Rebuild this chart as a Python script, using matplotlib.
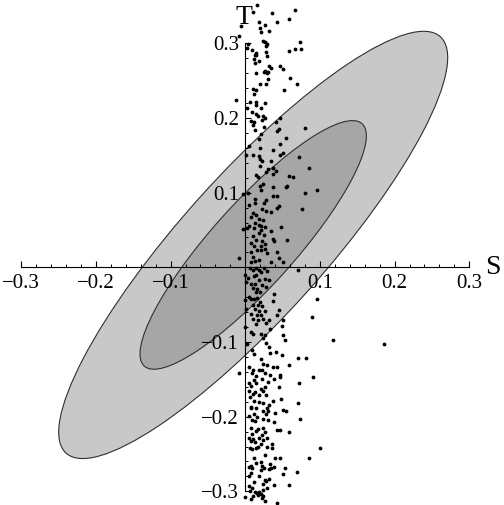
import numpy as np
import matplotlib
matplotlib.use("Agg")
import matplotlib.pyplot as plt
from matplotlib.patches import Ellipse
from matplotlib.ticker import FixedLocator, FixedFormatter, NullFormatter

plt.rcParams['font.family'] = ['Liberation Serif', 'DejaVu Serif']

# ---------------- data ----------------
major_ticks = [-0.3, -0.2, -0.1, 0.1, 0.2, 0.3]
tick_labels = ["\u22120.3", "\u22120.2", "\u22120.1", "0.1", "0.2", "0.3"]
x_label = "S"
y_label = "T"

# confidence ellipse parameters (S, T)
ell_center = (0.0106, 0.030)
ell_sigma_S = 0.2605
ell_sigma_T = 0.2861
ell_rho = 0.8765
ell_scales = [1.0, 0.582]
ell_colors = ["#c8c8c8", "#a6a6a6"]

pts = [
 (0.016,0.351),(0.066,0.345),(0.036,0.341),(0.010,0.342),(0.059,0.333),(0.042,0.328),(0.019,0.328),
 (0.027,0.324),(0.020,0.321),(-0.006,0.323),(0.032,0.317),(0.021,0.315),(-0.008,0.310),(0.024,0.303),
 (0.027,0.302),(0.073,0.302),(0.029,0.299),(0.004,0.299),(0.028,0.296),(0.002,0.294),(0.009,0.291),
 (0.058,0.290),(0.066,0.292),(0.075,0.292),(0.028,0.289),(0.014,0.287),(0.015,0.284),(0.013,0.285),
 (0.029,0.283),(0.012,0.279),(0.019,0.276),(0.013,0.273),(0.032,0.269),(0.035,0.267),(0.046,0.270),
 (0.051,0.266),(0.026,0.263),(0.031,0.262),(0.029,0.260),(0.025,0.261),(0.015,0.260),(0.060,0.254),
 (0.030,0.252),(0.020,0.246),(0.069,0.246),(0.028,0.246),
 (0.011,0.239),(0.015,0.238),(0.052,0.238),(0.012,0.232),(-0.012,0.224),(0.006,0.221),(0.014,0.222),
 (0.015,0.218),(0.027,0.220),(0.021,0.214),(0.002,0.214),(0.009,0.208),(0.015,0.205),(0.017,0.203),
 (0.024,0.203),(0.026,0.200),(0.023,0.197),(0.008,0.196),(0.012,0.194),(0.047,0.200),(0.041,0.195),
 (0.010,0.190),(0.025,0.188),(0.080,0.186),(0.045,0.185),(0.043,0.182),(0.013,0.184),(0.021,0.179),
 (0.054,0.173),(0.018,0.172),(0.046,0.165),(0.005,0.162),(0.020,0.160),(0.037,0.157),(0.051,0.153),
 (0.046,0.150),(0.011,0.151),(0.001,0.150),(0.018,0.149),(0.020,0.145),(0.072,0.148),(0.034,0.143),
 (0.023,0.142),(0.020,0.136),(0.085,0.133),(0.031,0.132),(0.037,0.133),
 (0.014,0.124),(0.017,0.121),(0.028,0.127),(0.037,0.125),(0.041,0.129),(0.058,0.122),(0.064,0.121),
 (0.024,0.112),(0.020,0.109),(0.037,0.107),(0.056,0.109),(0.055,0.107),(0.021,0.103),(0.096,0.104),
 (0.080,0.100),(0.004,0.100),(-0.003,0.098),(0.037,0.095),(0.042,0.095),(0.013,0.091),(0.028,0.090),
 (0.013,0.086),(0.005,0.084),(0.025,0.086),(0.045,0.082),(0.042,0.079),(0.023,0.078),(0.028,0.075),
 (0.034,0.074),(0.076,0.078),(0.011,0.073),(0.014,0.070),(0.007,0.067),(0.019,0.065),(0.024,0.063),
 (0.013,0.060),(0.019,0.057),(0.021,0.056),(0.005,0.056),(0.048,0.054),(0.026,0.054),(0.012,0.052),
 (-0.003,0.051),(0.002,0.052),(0.021,0.050),(0.034,0.049),(0.018,0.046),(0.025,0.043),(0.010,0.042),
 (0.037,0.038),(0.039,0.035),(0.056,0.036),(0.014,0.037),(0.023,0.035),(0.007,0.032),(0.026,0.031),
 (0.021,0.029),(0.012,0.028),(0.016,0.023),(0.021,0.023),(0.027,0.024),(0.008,0.020),(0.042,0.020),
 (0.029,0.019),
 (-0.008,0.013),(0.010,0.014),(0.034,0.007),(0.045,0.013),(0.050,0.007),(0.007,0.007),(0.013,0.008),
 (0.018,0.010),(0.006,-0.001),(0.010,-0.004),(0.015,-0.001),(0.018,-0.004),(0.021,-0.006),(0.025,-0.001),
 (0.029,-0.005),(0.071,-0.003),(-0.001,-0.010),(0.004,-0.014),(0.012,-0.011),(0.015,-0.010),(0.019,-0.017),
 (0.027,-0.016),(0.032,-0.017),(0.001,-0.020),(0.007,-0.022),(0.013,-0.023),(0.022,-0.024),(0.028,-0.026),
 (0.011,-0.028),(0.016,-0.029),(0.014,-0.033),(0.020,-0.033),(0.096,-0.042),(0.005,-0.040),(0.007,-0.042),
 (0.012,-0.042),(0.016,-0.041),(0.038,-0.036),(0.000,-0.044),(0.020,-0.046),(0.037,-0.045),(0.011,-0.050),
 (0.017,-0.051),(0.022,-0.052),(0.001,-0.056),(0.013,-0.056),(0.019,-0.058),(0.045,-0.057),(0.026,-0.059),
 (0.007,-0.062),(0.016,-0.064),(0.021,-0.064),(0.042,-0.064),(0.090,-0.066),(0.011,-0.069),(0.024,-0.069),
 (0.032,-0.071),(0.017,-0.071),(0.051,-0.071),(0.028,-0.075),(0.014,-0.076),(0.049,-0.079),(-0.001,-0.080),
 (0.033,-0.082),(0.007,-0.087),(0.010,-0.089),(0.026,-0.091),(0.021,-0.089),(0.051,-0.090),(0.024,-0.095),
 (0.028,-0.101),(0.032,-0.107),(0.053,-0.098),(0.118,-0.098),(0.002,-0.103),(0.012,-0.116),(0.033,-0.115),
 (0.041,-0.114),(0.049,-0.117),(0.070,-0.121),(0.081,-0.121),(0.009,-0.111),(0.021,-0.123),(0.024,-0.130),
 (0.029,-0.131),(0.059,-0.131),(0.005,-0.134),(0.037,-0.134),(0.043,-0.134),(0.011,-0.138),(0.019,-0.138),
 (0.022,-0.138),(-0.009,-0.142),(0.009,-0.142),(0.027,-0.142),(0.014,-0.146),(0.033,-0.144),(0.046,-0.144),
 (0.046,-0.147),(0.091,-0.147),(0.012,-0.151),(0.023,-0.149),(0.039,-0.150),(0.072,-0.155),(0.005,-0.155),
 (0.015,-0.155),(0.031,-0.154),(0.008,-0.159),(0.026,-0.160),(0.045,-0.160),(0.021,-0.163),(0.005,-0.165),
 (0.013,-0.167),(0.024,-0.165),(0.010,-0.169),(0.028,-0.171),(0.018,-0.171),(0.006,-0.173),(0.048,-0.177),
 (0.012,-0.179),(0.037,-0.179),(0.019,-0.180),(0.024,-0.182),(0.071,-0.182),(0.032,-0.184),(0.007,-0.187),
 (0.029,-0.188),(0.051,-0.191),(0.008,-0.189),(0.014,-0.189),(0.055,-0.192),(0.024,-0.193),(0.031,-0.193),
 (0.040,-0.195),(0.012,-0.196),(0.028,-0.196),(0.005,-0.199),(0.016,-0.200),(0.009,-0.204),(0.073,-0.203),
 (0.024,-0.203),(0.030,-0.204),(0.039,-0.207),(0.013,-0.206),
 (0.007,-0.215),(0.017,-0.216),(0.024,-0.215),(0.042,-0.218),(0.046,-0.218),(0.058,-0.220),(0.014,-0.219),
 (0.009,-0.223),(0.027,-0.221),(0.022,-0.225),(0.005,-0.228),(0.029,-0.229),(0.018,-0.228),(0.010,-0.230),
 (0.024,-0.231),(0.007,-0.233),(0.013,-0.234),(0.021,-0.236),(0.017,-0.240),(0.029,-0.240),(0.036,-0.237),
 (0.036,-0.242),(0.006,-0.242),(0.009,-0.243),(0.014,-0.242),(0.100,-0.242),(0.027,-0.252),(0.040,-0.255),
 (0.046,-0.256),(0.086,-0.256),(0.012,-0.256),(0.021,-0.261),(0.015,-0.262),(0.033,-0.263),(0.007,-0.266),
 (0.005,-0.268),(0.009,-0.269),(0.023,-0.266),(0.025,-0.269),(0.032,-0.270),(0.035,-0.269),(0.038,-0.268),
 (0.053,-0.269),(0.021,-0.271),(0.069,-0.274),(0.007,-0.276),(0.051,-0.277),(0.005,-0.279),(0.018,-0.279),
 (0.032,-0.283),(0.026,-0.285),(0.028,-0.286),(0.012,-0.287),(0.024,-0.290),(0.039,-0.291),(0.058,-0.291),
 (0.005,-0.293),(0.029,-0.296),(0.009,-0.296),(0.024,-0.298),(0.006,-0.300),(0.013,-0.301),(0.016,-0.302),
 (0.019,-0.301),(0.021,-0.304),(0.017,-0.305),(0.011,-0.306),(0.024,-0.306),(-0.001,-0.308),(0.007,-0.310),
 (0.022,-0.309),(0.027,-0.313),(0.042,-0.315),
 (0.186,-0.103),
]
S_vals = [p[0] for p in pts]
T_vals = [p[1] for p in pts]

# ---------------- figure ----------------
fig = plt.figure(figsize=(5.04, 5.05), dpi=100)
ax = fig.add_axes([0, 0, 1, 1])
ax.set_xlim(-0.3285, 0.3465)
ax.set_ylim(-0.3183, 0.358)

cov = np.array([[ell_sigma_S**2, ell_rho*ell_sigma_S*ell_sigma_T],
                [ell_rho*ell_sigma_S*ell_sigma_T, ell_sigma_T**2]])
vals, vecs = np.linalg.eigh(cov)
angle = np.degrees(np.arctan2(vecs[1, 1], vecs[0, 1]))
for k, col, z in zip(ell_scales, ell_colors, [0.5, 0.6]):
    e = Ellipse(ell_center, width=2*k*np.sqrt(vals[1]), height=2*k*np.sqrt(vals[0]),
                angle=angle, facecolor=col, edgecolor="#303030", linewidth=0.8, zorder=z)
    ax.add_patch(e)

ax.scatter(S_vals, T_vals, s=7.5, c="black", linewidths=0, zorder=3)

for side in ['top', 'right']:
    ax.spines[side].set_visible(False)
ax.spines['left'].set_position(('data', 0))
ax.spines['bottom'].set_position(('data', 0))
ax.spines['left'].set_bounds(-0.3, 0.3)
ax.spines['bottom'].set_bounds(-0.3, 0.3)
for side in ['left', 'bottom']:
    ax.spines[side].set_linewidth(0.8)
    ax.spines[side].set_zorder(2.5)

minor = [m/100 for m in range(-30, 31, 2) if m % 10 != 0]
for axis in [ax.xaxis, ax.yaxis]:
    axis.set_major_locator(FixedLocator(major_ticks))
    axis.set_major_formatter(FixedFormatter(tick_labels))
    axis.set_minor_locator(FixedLocator(minor))
    axis.set_minor_formatter(NullFormatter())
ax.tick_params(which='major', direction='in', length=4, width=0.8, labelsize=15, pad=4.5)
ax.tick_params(which='minor', direction='in', length=2.2, width=0.7)

ax.text(0.332, 0.0, x_label, fontsize=20, ha='center', va='center')
ax.text(-0.002, 0.334, y_label, fontsize=20, ha='center', va='center')

fig.savefig("out.png", dpi=100)
